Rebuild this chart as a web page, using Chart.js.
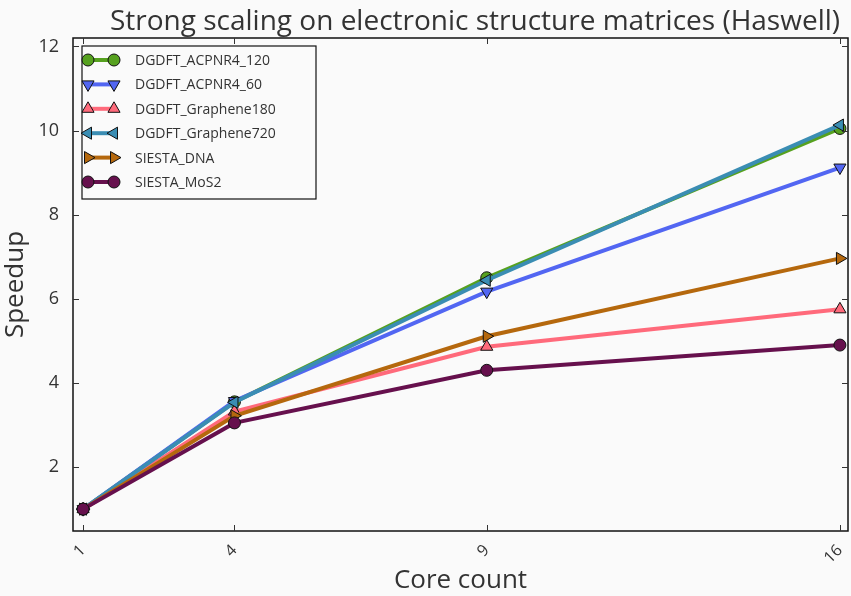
<!DOCTYPE html>
<html>
<head>
<meta charset="utf-8">
<script src="https://cdn.jsdelivr.net/npm/chart.js@4"></script>
<style>
  html, body { margin: 0; padding: 0; background: #fafafa; }
  #wrap { width: 851px; height: 596px; position: relative; }
</style>
</head>
<body>
<div id="wrap"><canvas id="c"></canvas></div>
<script>
// ===== Strong scaling — Haswell =====
const CORES = [1, 4, 9, 16];
const X_TICKS = [1, 4, 9, 16];
const Y_TICKS = [2, 4, 6, 8, 10, 12];

const SERIES_NAMES = ['DGDFT_ACPNR4_120', 'DGDFT_ACPNR4_60', 'DGDFT_Graphene180', 'DGDFT_Graphene720', 'SIESTA_DNA', 'SIESTA_MoS2'];
const ACPNR4_120 = [1, 3.55, 6.5, 10.05];
const ACPNR4_60 = [1, 3.57, 6.17, 9.12];
const GRAPHENE180 = [1, 3.32, 4.86, 5.75];
const GRAPHENE720 = [1, 3.54, 6.44, 10.13];
const SIESTA_DNA = [1, 3.22, 5.11, 6.96];
const SIESTA_MOS2 = [1, 3.05, 4.3, 4.9];

const SERIES_VALUES = [ACPNR4_120, ACPNR4_60, GRAPHENE180, GRAPHENE720, SIESTA_DNA, SIESTA_MOS2];
const COLORS = ['#56a11f', '#5266f2', '#ff6a7b', '#3a8db3', '#b5680d', '#66104d'];
const MARKERS = [
    { style: 'circle', rot: 0, r: 6 },
    { style: 'triangle', rot: 180, r: 7 },
    { style: 'triangle', rot: 0, r: 7 },
    { style: 'triangle', rot: -90, r: 7 },
    { style: 'triangle', rot: 90, r: 7 },
    { style: 'circle', rot: 0, r: 6 }
];

const FONT = "'Open Sans', 'Fira Sans', sans-serif";
const TXT = '#333333';

const datasets = SERIES_VALUES.map((vals, i) => ({
    label: SERIES_NAMES[i],
    data: CORES.map((c, j) => ({ x: c, y: vals[j] })),
    borderColor: COLORS[i],
    backgroundColor: COLORS[i],
    borderWidth: 4,
    pointStyle: MARKERS[i].style,
    rotation: MARKERS[i].rot,
    pointRadius: MARKERS[i].r,
    pointBorderColor: '#111',
    pointBorderWidth: 1,
    pointBackgroundColor: COLORS[i],
    tension: 0,
    order: SERIES_VALUES.length - i
}));

// frame, inward ticks, title and legend box
const decor = {
    id: 'decor',
    afterDatasetsDraw(chart) {
        const { ctx, chartArea: a, scales } = chart;
        ctx.save();
        ctx.strokeStyle = '#111';
        ctx.lineWidth = 1.5;
        ctx.strokeRect(a.left, a.top, a.right - a.left, a.bottom - a.top);
        ctx.lineWidth = 1;
        ctx.strokeStyle = '#333';
        ctx.beginPath();
        X_TICKS.forEach(v => {
            const px = Math.round(scales.x.getPixelForValue(v)) + 0.5;
            ctx.moveTo(px, a.bottom); ctx.lineTo(px, a.bottom - 6);
            ctx.moveTo(px, a.top); ctx.lineTo(px, a.top + 6);
        });
        Y_TICKS.forEach(v => {
            const py = Math.round(scales.y.getPixelForValue(v)) + 0.5;
            ctx.moveTo(a.left, py); ctx.lineTo(a.left + 6, py);
            ctx.moveTo(a.right, py); ctx.lineTo(a.right - 6, py);
        });
        ctx.stroke();

        // title
        ctx.fillStyle = TXT;
        ctx.font = `28px ${FONT}`;
        ctx.textAlign = 'center';
        ctx.textBaseline = 'alphabetic';
        ctx.fillText('Strong scaling on electronic structure matrices (Haswell)', 475, 30);

        // legend
        const lx = a.left + 9, ly = a.top + 8, lw = 234, lh = 153, rowH = 24.4;
        ctx.fillStyle = '#fafafa';
        ctx.fillRect(lx, ly, lw, lh);
        ctx.strokeStyle = '#111';
        ctx.lineWidth = 1.2;
        ctx.strokeRect(lx, ly, lw, lh);
        ctx.textBaseline = 'middle';
        chart.data.datasets.forEach((ds, i) => {
            const cy = ly + 14 + i * rowH;
            ctx.strokeStyle = ds.borderColor;
            ctx.lineWidth = 4;
            ctx.beginPath();
            ctx.moveTo(lx + 5, cy); ctx.lineTo(lx + 33, cy);
            ctx.stroke();
            [lx + 6, lx + 32].forEach(mx => {
                ctx.fillStyle = ds.backgroundColor;
                ctx.strokeStyle = '#111';
                ctx.lineWidth = 1;
                Chart.helpers.drawPoint(ctx, {
                    pointStyle: ds.pointStyle, rotation: ds.rotation,
                    radius: ds.pointRadius, borderWidth: 1
                }, mx, cy);
            });
            ctx.fillStyle = TXT;
            ctx.font = `14px ${FONT}`;
            ctx.textAlign = 'left';
            ctx.fillText(ds.label, lx + 53, cy + 1);
        });
        ctx.restore();
    }
};

new Chart(document.getElementById('c').getContext('2d'), {
    type: 'line',
    data: { datasets },
    options: {
        responsive: true, maintainAspectRatio: false,
        animation: false,
        layout: { autoPadding: false, padding: { top: 38, right: 3, left: 0, bottom: 0 } },
        scales: {
            x: {
                type: 'linear', min: 0.8, max: 16.16,
                afterBuildTicks: s => { s.ticks = X_TICKS.map(v => ({ value: v })); },
                afterFit: s => { s.height = 65; s.paddingLeft = 0; s.paddingRight = 0; },
                grid: { display: false },
                border: { display: false },
                ticks: { color: TXT, font: { family: FONT, size: 16 }, minRotation: 45, maxRotation: 45, padding: 2 },
                title: { display: true, text: 'Core count', color: TXT, font: { family: FONT, size: 26 }, padding: { top: 0, bottom: 0 } }
            },
            y: {
                min: 0.48, max: 12.2,
                afterBuildTicks: s => { s.ticks = Y_TICKS.map(v => ({ value: v })); },
                afterFit: s => { s.width = 73; s.paddingTop = 0; s.paddingBottom = 0; },
                grid: { display: false },
                border: { display: false },
                ticks: { color: TXT, font: { family: FONT, size: 18 }, padding: 6 },
                title: { display: true, text: 'Speedup', color: TXT, font: { family: FONT, size: 26 }, padding: { top: 0, bottom: 4 } }
            }
        },
        plugins: {
            legend: { display: false },
            title: { display: false },
            tooltip: { enabled: false }
        }
    },
    plugins: [decor]
});
</script>
</body>
</html>
